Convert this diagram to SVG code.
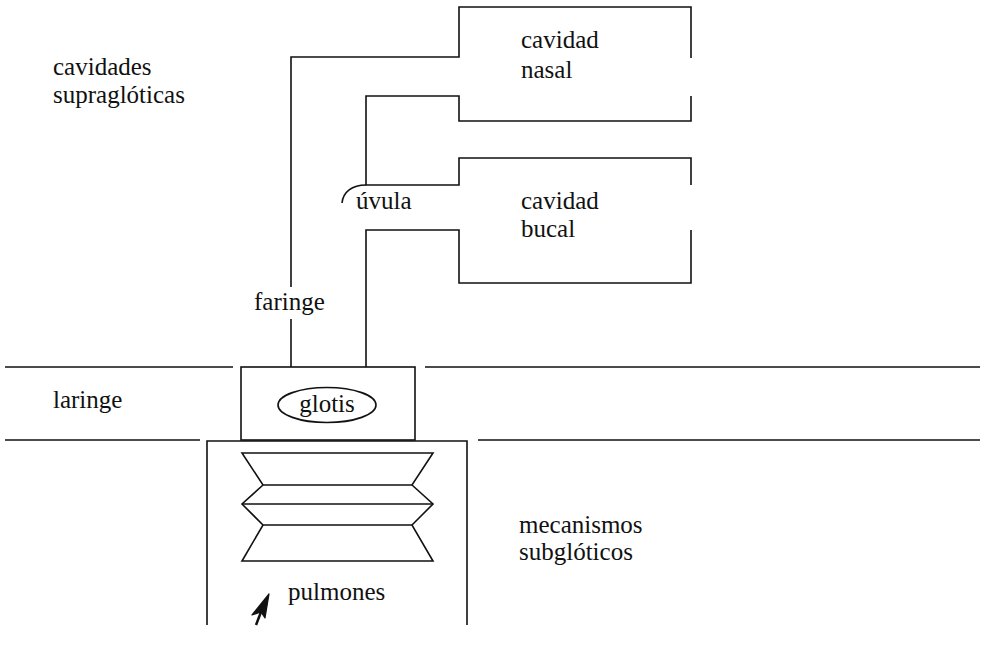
<svg xmlns="http://www.w3.org/2000/svg" width="984" height="646" viewBox="0 0 984 646">
  <style>
    .ln { fill: none; stroke: #111; stroke-width: 1.6; stroke-linejoin: miter; }
    .lb { font-family: "Liberation Serif", "DejaVu Serif", serif; font-size: 25px; fill: #111; }
  </style>
  <rect width="984" height="646" fill="#fff"/>

  <!-- region dividers -->
  <g id="dividers" class="ln">
    <path d="M5,367 H233 M425,367 H980"/>
    <path d="M5,440 H200 M478,440 H980"/>
  </g>

  <!-- vocal tract outline: pharynx, nasal and oral cavities -->
  <g id="tract" class="ln">
    <path d="M291,287 V57 H459 V7 H691 V58"/>
    <path d="M691,96 V121 H459 V96 H366 V185 H459 V158 H691 V185"/>
    <path d="M691,230 V283 H459 V230 H366 V367"/>
    <path d="M291,319 V367"/>
    <!-- uvula -->
    <path d="M366,185 C352,185 343,192 342,203"/>
  </g>

  <g id="laringe" class="ln">
    <rect x="241" y="367" width="174" height="73"/>
    <ellipse cx="327" cy="405" rx="49" ry="17.5"/>
  </g>

  <g id="pulmones" class="ln">
    <path d="M207,625 V441 H467 V625"/>
    <!-- bellows -->
    <path d="M242,453 H433 L412,485 H263 Z"/>
    <path d="M263,485 L242,504 L263,525 M412,485 L433,504 L412,525"/>
    <path d="M242,504 H433"/>
    <path d="M263,525 H412 L433,561 H242 Z"/>
  </g>

  <!-- airflow arrow -->
  <g id="flecha">
    <path d="M269,594 L265,618 L261,612 L252,615 Z" fill="#111" stroke="#111" stroke-width="1.2" stroke-linejoin="round"/>
    <path d="M261,612 L256,625" stroke="#111" stroke-width="2.5" fill="none"/>
  </g>

  <g id="etiquetas" class="lb">
    <text x="53" y="75">cavidades</text>
    <text x="53" y="103">supraglóticas</text>
    <text x="521" y="48">cavidad</text>
    <text x="521" y="78">nasal</text>
    <text x="356" y="209">úvula</text>
    <text x="521" y="209">cavidad</text>
    <text x="521" y="237">bucal</text>
    <text x="254" y="310">faringe</text>
    <text x="53" y="408">laringe</text>
    <text x="327" y="412" text-anchor="middle">glotis</text>
    <text x="519" y="533">mecanismos</text>
    <text x="519" y="560">subglóticos</text>
    <text x="288" y="600">pulmones</text>
  </g>
</svg>
